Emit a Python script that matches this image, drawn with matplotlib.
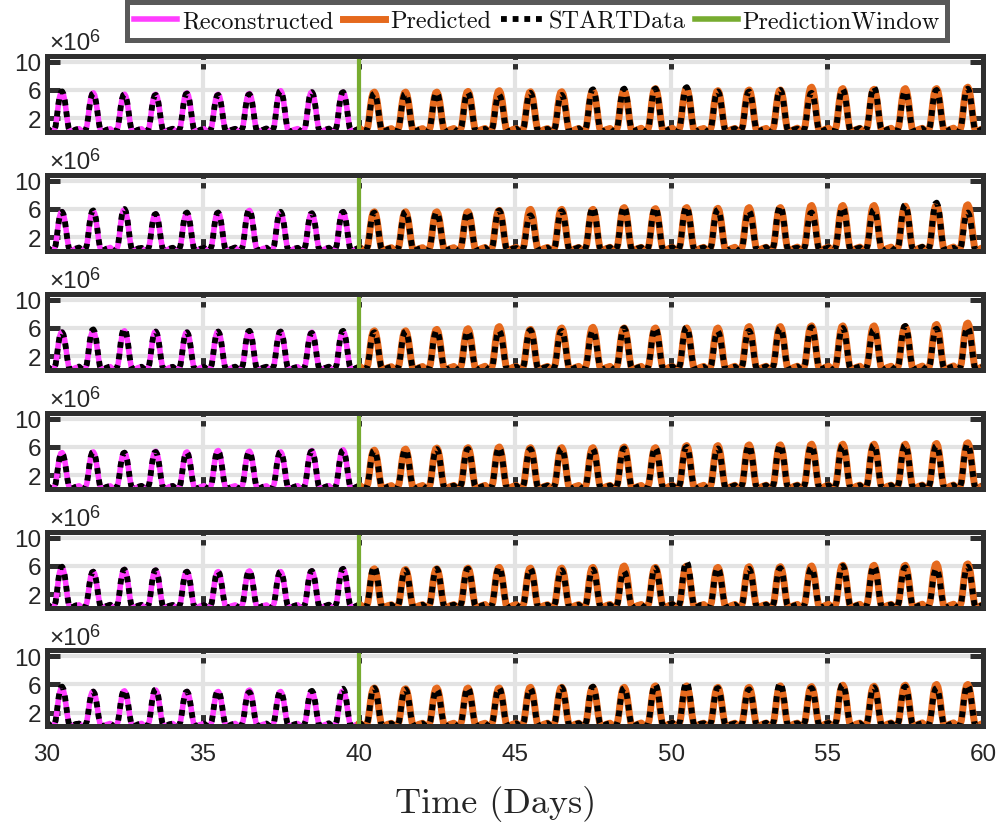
import numpy as np
import matplotlib
matplotlib.use("Agg")
import matplotlib.pyplot as plt
from matplotlib.lines import Line2D

plt.rcParams["font.family"] = ["Liberation Sans", "DejaVu Sans"]

# Normalised hourly shape of one day (hour 0 .. 23), peak at midday
hourly_shape = [0.08, 0.09, 0.06, 0.03, 0.02, 0.02, 0.05, 0.15,
                0.38, 0.66, 0.87, 0.98, 1.00, 0.94, 0.79, 0.56,
                0.30, 0.10, 0.03, 0.02, 0.03, 0.04, 0.06, 0.07]

recon_days = list(range(30, 40))
pred_days = list(range(40, 60))
data_days = list(range(30, 60))

# Daily peak values (x 1e6), one row per panel
recon_peaks = [
    [5.7, 5.6, 5.4, 5.4, 5.6, 5.4, 5.5, 5.9, 5.7, 5.7],
    [5.6, 5.7, 5.9, 5.3, 5.3, 5.5, 5.8, 5.5, 5.4, 5.6],
    [5.4, 5.5, 5.6, 5.5, 5.4, 5.5, 5.5, 5.5, 5.4, 5.5],
    [5.2, 5.3, 5.2, 5.4, 5.3, 5.5, 5.4, 5.3, 5.5, 5.6],
    [5.8, 5.2, 5.5, 5.4, 5.2, 5.2, 5.3, 5.2, 5.3, 5.6],
    [5.5, 5.0, 5.1, 5.2, 5.0, 5.0, 5.2, 5.0, 5.0, 5.1],
]
pred_peaks = [
    [5.7, 5.7, 5.7, 5.8, 5.9, 5.75, 5.75, 5.9, 5.9, 6.2,
     6.2, 5.9, 6.0, 6.0, 6.4, 6.2, 6.1, 6.2, 6.2, 6.4],
    [5.6, 5.6, 5.6, 5.6, 5.8, 5.95, 5.95, 5.95, 6.2, 6.05,
     6.2, 6.1, 6.2, 6.2, 6.5, 6.5, 6.5, 6.4, 6.5, 6.6],
    [5.6, 5.6, 5.8, 5.9, 6.2, 5.8, 6.0, 6.1, 6.0, 6.0,
     6.0, 6.0, 6.2, 6.2, 6.3, 6.3, 6.3, 6.2, 6.5, 6.7],
    [5.55, 5.7, 5.85, 5.9, 6.0, 5.9, 5.9, 5.9, 6.0, 5.9,
     6.2, 6.2, 6.3, 6.3, 6.4, 6.4, 6.4, 6.4, 6.5, 6.6],
    [5.6, 5.5, 5.6, 5.7, 5.8, 5.7, 5.7, 5.8, 6.0, 5.8,
     6.0, 5.8, 5.9, 5.9, 6.0, 6.1, 6.1, 6.1, 6.3, 6.3],
    [5.5, 5.4, 5.5, 5.5, 5.5, 5.6, 5.6, 5.6, 5.6, 5.8,
     5.8, 5.6, 5.6, 5.8, 5.7, 5.9, 5.75, 5.9, 6.0, 6.0],
]
data_peaks = [
    [5.8, 5.5, 5.4, 5.3, 5.5, 5.3, 5.4, 5.9, 5.7, 5.7,
     5.5, 5.5, 5.6, 5.6, 5.3, 5.6, 5.3, 6.1, 6.2, 6.2,
     6.4, 5.8, 5.8, 6.0, 5.6, 6.1, 6.4, 5.8, 6.0, 6.2],
    [5.6, 5.8, 6.0, 5.3, 5.5, 5.5, 5.9, 5.6, 5.4, 5.6,
     5.5, 5.6, 5.5, 5.6, 5.8, 5.1, 5.7, 6.2, 6.3, 6.2,
     6.3, 5.9, 5.7, 6.4, 5.5, 6.2, 5.9, 6.6, 6.9, 5.5],
    [5.4, 5.8, 5.9, 5.5, 5.4, 5.5, 5.6, 5.5, 5.3, 5.6,
     5.4, 5.5, 5.6, 5.5, 5.6, 5.7, 5.6, 5.6, 6.0, 6.0,
     6.1, 5.5, 5.6, 6.0, 6.1, 6.0, 5.8, 6.3, 5.9, 6.1],
    [5.1, 5.3, 5.2, 5.3, 5.2, 5.4, 5.3, 5.3, 5.4, 5.5,
     5.5, 5.6, 5.7, 5.7, 5.9, 5.7, 5.8, 5.7, 5.8, 5.9,
     6.0, 5.8, 6.2, 6.3, 6.2, 6.2, 6.3, 6.3, 6.2, 6.4],
    [5.9, 5.2, 5.5, 5.4, 5.2, 5.2, 5.3, 5.2, 5.3, 5.6,
     5.9, 5.4, 5.6, 5.6, 5.8, 5.6, 5.4, 5.5, 5.2, 5.7,
     6.6, 5.7, 5.6, 5.7, 5.7, 6.0, 6.0, 5.8, 5.6, 5.9],
    [5.7, 5.0, 5.2, 5.3, 5.0, 5.1, 4.9, 5.0, 5.1, 5.4,
     5.5, 5.3, 5.3, 5.5, 5.5, 5.4, 5.6, 5.7, 5.5, 6.0,
     6.3, 5.5, 5.3, 6.2, 5.5, 6.0, 5.6, 5.7, 5.5, 5.9],
]

y_ticks = [2e6, 6e6, 10e6]
y_tick_labels = ["2", "6", "10"]
x_ticks = [30, 35, 40, 45, 50, 55, 60]
x_tick_labels = ["30", "35", "40", "45", "50", "55", "60"]
window_start = 40

legend_labels = ["Reconstructed", "Predicted", "STARTData", "PredictionWindow"]

C_RECON = "#ff3dff"
C_PRED = "#e5691d"
C_DATA = "#000000"
C_WIN = "#77ac30"
C_FRAME = "#2f2f2f"
C_GRID = "#e3e3e3"
C_TEXT = "#262626"

LW_RECON, LW_PRED, LW_DATA = 4.0, 5.0, 4.2
DOTS = (0, (1, 1.0))


def daily_series(days, peaks):
    """Repeat the hourly shape for each day, scaled by that day's peak."""
    t, v = [], []
    shape = np.asarray(hourly_shape)
    for d, p in zip(days, peaks):
        t.extend(d + np.arange(24) / 24.0)
        v.extend(p * 1e6 * shape)
    t.append(days[-1] + 1)
    v.append(peaks[-1] * 1e6 * shape[0])
    return np.array(t), np.array(v)


W, H = 1002, 828
fig = plt.figure(figsize=(W / 100, H / 100), dpi=100)

left_px, right_px = 46.5, 983.5
panel_tops = [56.5, 175.5, 294.5, 413.5, 532.5, 651.0]
panel_h = 76.0

axes = []
for k in range(6):
    top = panel_tops[k]
    ax = fig.add_axes([left_px / W, (H - top - panel_h) / H,
                       (right_px - left_px) / W, panel_h / H])
    axes.append(ax)

    tr, vr = daily_series(recon_days, recon_peaks[k])
    tp, vp = daily_series(pred_days, pred_peaks[k])
    td, vd = daily_series(data_days, data_peaks[k])

    ax.plot(tr, vr, color=C_RECON, lw=LW_RECON, solid_capstyle="round",
            zorder=3)
    ax.plot(tp, vp, color=C_PRED, lw=LW_PRED, solid_capstyle="round",
            zorder=3)
    ax.plot(td, vd, color=C_DATA, lw=LW_DATA, linestyle=DOTS,
            dash_capstyle="butt", zorder=4)
    ax.axvline(window_start, color=C_WIN, lw=3.0, zorder=5)

    ax.set_xlim(30, 60)
    ax.set_ylim(0.1e6, 10.9e6)
    ax.set_xticks(x_ticks)
    ax.set_yticks(y_ticks)
    ax.set_yticklabels(y_tick_labels)
    if k == 5:
        ax.set_xticklabels(x_tick_labels)
    else:
        ax.set_xticklabels([])

    ax.grid(True, color=C_GRID, lw=3.0, zorder=0)
    ax.set_axisbelow(True)
    ax.tick_params(direction="in", length=9.5, width=3.6, color=C_FRAME,
                   top=True, right=True, labelsize=17.5, labelcolor=C_TEXT)
    ax.tick_params(axis="y", pad=3.5)
    ax.tick_params(axis="x", pad=12)
    for s in ax.spines.values():
        s.set_linewidth(3.6)
        s.set_color(C_FRAME)
        s.set_zorder(6)

    # exponent label above the y axis
    base = ax.annotate("\u00d710", xy=(0, 1), xycoords="axes fraction",
                       xytext=(2.0, 4.5), textcoords="offset points",
                       ha="left", va="baseline", fontsize=17.5, color=C_TEXT)
    ax.annotate("6", xy=(1, 1), xycoords=base,
                xytext=(-0.8, 3.0), textcoords="offset points",
                ha="left", va="top", fontsize=13, color=C_TEXT)

fig.text(495.5 / W, 1 - 813 / H, "Time (Days)", fontfamily="cmr10",
         fontsize=26, color=C_TEXT, ha="center", va="baseline")

handles = [
    Line2D([], [], color=C_RECON, lw=LW_RECON),
    Line2D([], [], color=C_PRED, lw=LW_PRED),
    Line2D([], [], color=C_DATA, lw=LW_DATA, linestyle=DOTS,
           dash_capstyle="butt"),
    Line2D([], [], color=C_WIN, lw=LW_RECON),
]
leg = fig.legend(handles, legend_labels, ncol=4, loc="upper center",
                 bbox_to_anchor=(0.536, 0.996), frameon=True, fancybox=False,
                 prop={"family": "cmr10", "size": 17.5},
                 handlelength=1.75, handletextpad=0.2, columnspacing=0.4,
                 borderpad=0.32, borderaxespad=0.0)
leg.get_frame().set_edgecolor(C_FRAME)
leg.get_frame().set_linewidth(3.6)
for t in leg.get_texts():
    t.set_color("#111111")

fig.savefig("out.png", dpi=100)
